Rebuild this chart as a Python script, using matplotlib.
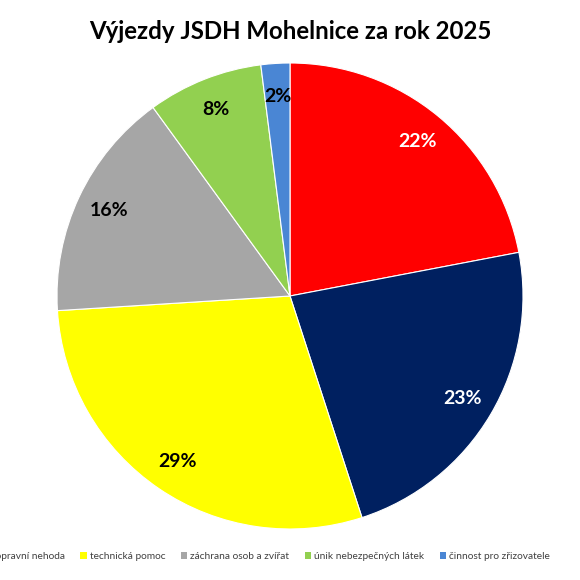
import matplotlib
matplotlib.use('Agg')
import matplotlib.pyplot as plt
from matplotlib.patches import Patch

plt.rcParams['font.family'] = ['Lato', 'DejaVu Sans']

categories = ['požár', 'dopravní nehoda', 'technická pomoc', 'záchrana osob a zvířat',
              'únik nebezpečných látek', 'činnost pro zřizovatele']
shares = [22, 23, 29, 16, 8, 2]
colors = ['#ff0000', '#002060', '#ffff00', '#a6a6a6', '#92d050', '#4a86d4']
label_colors = ['white', 'white', 'black', 'black', 'black', 'black']

fig = plt.figure(figsize=(5.8, 5.8), dpi=100)
ax = fig.add_axes([290 / 580 - 233 / 580, 1 - (296 + 233) / 580, 466 / 580, 466 / 580])

wedges, texts, autotexts = ax.pie(
    shares, colors=colors, startangle=90, counterclock=False,
    autopct='%1.0f%%', pctdistance=0.86,
    wedgeprops={'edgecolor': 'white', 'linewidth': 0.8},
)
for t, c in zip(autotexts, label_colors):
    t.set_color(c)
    t.set_fontsize(14)
    t.set_fontweight('bold')
ax.set_xlim(-1, 1)
ax.set_ylim(-1, 1)
ax.set_aspect('equal')

fig.suptitle('Výjezdy JSDH Mohelnice za rok 2025', y=0.965, fontsize=17.3, fontweight='bold')

handles = [Patch(facecolor=c, edgecolor='none') for c in colors]
fig.legend(handles, categories, loc='center left', bbox_to_anchor=(-69 / 580, 0.04), ncol=6,
           frameon=False, fontsize=7.3, handlelength=0.65, handleheight=0.65,
           handletextpad=0.3, columnspacing=1.5, borderpad=0, borderaxespad=0,
           labelcolor='#404040')

fig.savefig('out.png', dpi=100, facecolor='white')
